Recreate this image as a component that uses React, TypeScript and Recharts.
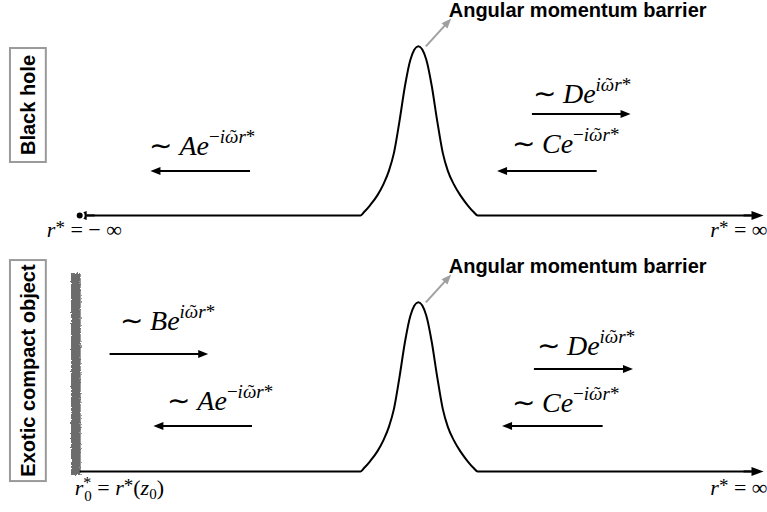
import { LineChart, Line, XAxis, YAxis, ReferenceLine, ReferenceDot, ReferenceArea } from 'recharts'

const SERIF = "'Liberation Serif', 'Times New Roman', serif"
const SANS = "'Liberation Sans', Arial, sans-serif"

// r* (tortoise coordinate, schematic units) and V (potential, peak = 1)
const R_DOMAIN: [number, number] = [-42, 35]
const V_DOMAIN: [number, number] = [-0.24, 1.274]

// barrier profile
const BARRIER_R = [-34, -5.8, -5.45, -4.85, -4.1, -3.5, -2.95, -2.45, -1.87, -1.35, -0.8, 0, 0.8, 1.35, 1.87, 2.45, 2.95, 3.55, 4.2, 4.95, 5.55, 5.95, 34]
const BARRIER_V = [0, 0, 0.02, 0.06, 0.12, 0.185, 0.265, 0.37, 0.567, 0.764, 0.921, 1, 0.921, 0.764, 0.567, 0.37, 0.265, 0.185, 0.12, 0.06, 0.02, 0, 0]

const barrier = BARRIER_R.map((r, i) => ({ r, v: BARRIER_V[i] }))

interface Wave {
  amp: string
  sign: string
  textR: number
  textV: number
  fromR: number
  toR: number
  arrowV: number
}

const BH_WAVES: Wave[] = [
  { amp: 'A', sign: '−', textR: -27.0, textV: 0.357, fromR: -16.9, toR: -26.9, arrowV: 0.263 },
  { amp: 'D', sign: '', textR: 11.5, textV: 0.665, fromR: 11.4, toR: 21.3, arrowV: 0.6 },
  { amp: 'C', sign: '−', textR: 9.4, textV: 0.369, fromR: 17.9, toR: 7.9, arrowV: 0.263 },
]

const ECO_WAVES: Wave[] = [
  { amp: 'B', sign: '', textR: -29.95, textV: 0.836, fromR: -31.0, toR: -21.1, arrowV: 0.694 },
  { amp: 'A', sign: '−', textR: -25.2, textV: 0.363, fromR: -16.7, toR: -26.6, arrowV: 0.269 },
  { amp: 'D', sign: '', textR: 11.9, textV: 0.689, fromR: 11.6, toR: 21.55, arrowV: 0.606 },
  { amp: 'C', sign: '−', textR: 9.4, textV: 0.351, fromR: 18.5, toR: 8.4, arrowV: 0.269 },
]

// the r* axis runs out to ±infinity on the black-hole side, only to +infinity past the wall
const AXIS_ENDS_BH = [-34.5, 34.65]
const AXIS_ENDS_ECO = [34.65]

const arrowShape = (color: string, hl = 10, hw = 4) => (p: any) => {
  const { x1, y1, x2, y2 } = p
  const dx = x2 - x1
  const dy = y2 - y1
  const len = Math.hypot(dx, dy) || 1
  const ux = dx / len
  const uy = dy / len
  const bx = x2 - ux * hl
  const by = y2 - uy * hl
  return (
    <g>
      <line x1={x1} y1={y1} x2={bx + ux} y2={by + uy} stroke={color} strokeWidth={2} />
      <path
        d={`M${x2},${y2} L${bx - uy * hw},${by + ux * hw} L${bx + uy * hw},${by - ux * hw} Z`}
        fill={color}
        stroke="none"
      />
    </g>
  )
}

// arrowhead at the end of the r* axis, pointing away from the barrier
const axisHead = (dir: number) => (p: any) => {
  const { cx, cy } = p
  const hl = 12
  const hw = 4.5
  const bx = cx - dir * hl
  return (
    <g>
      <line x1={bx} y1={cy} x2={bx - dir * 8} y2={cy} stroke="#000" strokeWidth={2} />
      <path d={`M${cx},${cy} L${bx},${cy - hw} L${bx},${cy + hw} Z`} fill="#000" stroke="none" />
    </g>
  )
}

const waveLabel = (w: Wave) => (p: any) => (
  <text x={p.cx} y={p.cy} fontFamily={SERIF} fontSize={28} fill="#000">
    <tspan>∼ </tspan>
    <tspan fontStyle="italic">{w.amp}e</tspan>
    {w.sign && <tspan dy={-12} fontSize={19}>{w.sign}</tspan>}
    <tspan dy={w.sign ? 0 : -12} fontSize={19} fontStyle="italic">iω</tspan>
    <tspan dx={-8.5} fontSize={19}>˜</tspan>
    <tspan dx={2.2} fontSize={19} fontStyle="italic">r</tspan>
    <tspan fontSize={19}>*</tspan>
  </text>
)

const barrierLabel = (p: any) => (
  <text x={p.cx} y={p.cy} fontFamily={SANS} fontWeight="bold" fontSize={20} fill="#000">
    Angular momentum barrier
  </text>
)

const sideBox = (title: string) => (p: any) => {
  const cx = p.x + p.width / 2
  const cy = p.y + p.height / 2
  return (
    <g>
      <rect x={p.x} y={p.y} width={p.width} height={p.height} fill="#fff" stroke="#9a9a9a" strokeWidth={2} />
      <text
        x={cx}
        y={cy}
        transform={`rotate(-90 ${cx} ${cy})`}
        textAnchor="middle"
        dominantBaseline="central"
        fontFamily={SANS}
        fontWeight="bold"
        fontSize={20}
        fill="#000"
      >
        {title}
      </text>
    </g>
  )
}

const infLabel = (minus: boolean, anchor: 'start' | 'end') => (p: any) => (
  <text x={p.cx} y={p.cy} fontFamily={SERIF} fontSize={22} fill="#000" textAnchor={anchor}>
    <tspan fontStyle="italic">r</tspan>
    <tspan fontSize={19} dy={-3}>*</tspan>
    <tspan dy={3}>{minus ? ' = − ∞' : ' = ∞'}</tspan>
  </text>
)

const wallLabel = (p: any) => (
  <text x={p.cx} y={p.cy} fontFamily={SERIF} fontSize={22} fill="#000">
    <tspan fontStyle="italic">r</tspan>
    <tspan fontSize={16} dy={-7}>*</tspan>
    <tspan fontSize={15} dx={-7} dy={13}>0</tspan>
    <tspan dy={-6}> = </tspan>
    <tspan fontStyle="italic">r</tspan>
    <tspan fontSize={19} dy={-3}>*</tspan>
    <tspan dy={3}>(</tspan>
    <tspan fontStyle="italic">z</tspan>
    <tspan fontSize={15} dy={4}>0</tspan>
    <tspan dy={-4}>)</tspan>
  </text>
)

const wallShape = (p: any) => (
  <g>
    <defs>
      <filter id="rough" x="-60%" y="-5%" width="220%" height="110%">
        <feTurbulence type="fractalNoise" baseFrequency="0.8" numOctaves={2} seed={3} result="n" />
        <feDisplacementMap in="SourceGraphic" in2="n" scale={3} />
      </filter>
    </defs>
    <rect x={p.x} y={p.y} width={p.width} height={p.height} fill="#6c6c6c" filter="url(#rough)" />
  </g>
)

interface PanelProps {
  title: string
  boxV: [number, number]
  waves: Wave[]
  axisEnds: number[]
  blackHole: boolean
}

function Panel({ title, boxV, waves, axisEnds, blackHole }: PanelProps) {
  return (
    <LineChart width={767} height={256} data={barrier} margin={{ top: 0, right: 0, bottom: 0, left: 0 }}>
      <XAxis type="number" dataKey="r" domain={R_DOMAIN} allowDataOverflow hide />
      <YAxis type="number" domain={V_DOMAIN} allowDataOverflow hide />
      <ReferenceArea x1={-41.0} x2={-37.4} y1={boxV[0]} y2={boxV[1]} ifOverflow="visible" shape={sideBox(title)} />
      {!blackHole && (
        <ReferenceArea x1={-34.87} x2={-33.9} y1={-0.021} y2={1.173} ifOverflow="visible" shape={wallShape} />
      )}
      <Line
        type="monotone"
        dataKey="v"
        stroke="#000"
        strokeWidth={2}
        dot={false}
        isAnimationActive={false}
      />
      {axisEnds.map((end, i) => (
        <ReferenceDot key={`e${i}`} x={end} y={0} r={0} ifOverflow="visible" shape={axisHead(Math.sign(end))} />
      ))}
      <ReferenceLine
        segment={[{ x: 0.75, y: 1.0 }, { x: 3.3, y: 1.165 }]}
        ifOverflow="visible"
        shape={arrowShape('#a0a0a0')}
      />
      <ReferenceDot x={3.05} y={1.1735} r={0} ifOverflow="visible" shape={barrierLabel} />
      {waves.map((w, i) => (
        <ReferenceLine
          key={`a${i}`}
          segment={[{ x: w.fromR, y: w.arrowV }, { x: w.toR, y: w.arrowV }]}
          ifOverflow="visible"
          shape={arrowShape('#000')}
        />
      ))}
      {waves.map((w, i) => (
        <ReferenceDot key={`t${i}`} x={w.textR} y={w.textV} r={0} ifOverflow="visible" shape={waveLabel(w)} />
      ))}
      {blackHole ? (
        <ReferenceDot x={-37.3} y={-0.128} r={0} ifOverflow="visible" shape={infLabel(true, 'start')} />
      ) : (
        <ReferenceDot x={-34.5} y={-0.139} r={0} ifOverflow="visible" shape={wallLabel} />
      )}
      <ReferenceDot
        x={35.05}
        y={blackHole ? -0.128 : -0.139}
        r={0}
        ifOverflow="visible"
        shape={infLabel(false, 'end')}
      />
    </LineChart>
  )
}

export default function App() {
  return (
    <div style={{ position: 'absolute', left: 0, top: 0, width: 767, height: 512, background: '#fff', overflow: 'hidden' }}>
      <style>{'.recharts-surface{overflow:visible}'}</style>
      <div style={{ position: 'absolute', left: 0, top: 0 }}>
        <Panel title="Black hole" boxV={[0.316, 0.99]} waves={BH_WAVES} axisEnds={AXIS_ENDS_BH} blackHole />
      </div>
      <div style={{ position: 'absolute', left: 0, top: 256 }}>
        <Panel
          title="Exotic compact object"
          boxV={[-0.057, 1.25]}
          waves={ECO_WAVES}
          axisEnds={AXIS_ENDS_ECO}
          blackHole={false}
        />
      </div>
    </div>
  )
}
